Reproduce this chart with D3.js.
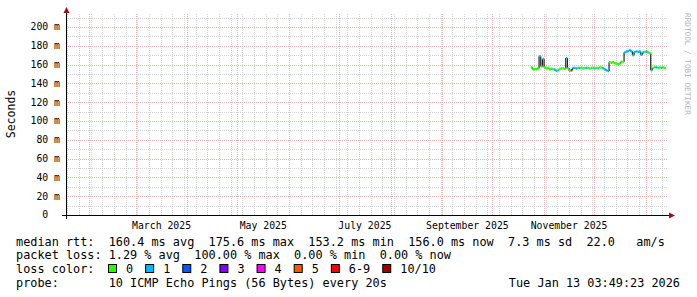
<!DOCTYPE html>
<html>
<head>
<meta charset="utf-8">
<script src="https://cdn.jsdelivr.net/npm/d3@7"></script>
<style>
  body { margin: 0; background: #fff; }
  text { font-family: "DejaVu Sans Mono", monospace; white-space: pre; }
</style>
</head>
<body>
<svg id="chart" width="697" height="297"></svg>
<script>
// graph covers the last 360 days up to the "now" stamp
var endTime = new Date(Date.UTC(2026, 0, 13, 3, 49, 23));
var rangeDays = 360;
var firstSample = new Date(Date.UTC(2025, 9, 24));

// median rtt in ms, one consolidated value per day from firstSample
var medianRtt = [
  157, 155, 155, 155, 156, 169, 158, 166, 157, 156,
  156.5, 155, 155.5, 155, 154.5, 153.5, 154, 155.5, 156, 156,
  155.5, 167, 156, 153.5, 154, 156.5, 156.5, 156, 156.5, 156.5,
  156.5, 156, 156.5, 156.5, 156.5, 156, 156.5, 156.5, 156, 156.5,
  156.5, 157, 157, 156, 155, 154, 153.2, 162.5, 162, 162.5,
  161.5, 161, 160.5, 161, 163, 163, 173, 174, 174.5, 175.6,
  174, 170, 173.5, 174, 173.5, 174, 170.5, 173, 173.5, 174,
  173, 172, 154, 156.5, 157.5, 157, 156.5, 157, 156.5, 157,
  156.5, 156
];
// lost pings per sample, index into lossColors
var lossLevel = [
  0, 0, 0, 0, 0, 1, 0, 1, 0, 0,
  0, 0, 0, 0, 1, 1, 0, 0, 0, 0,
  0, 1, 0, 0, 6, 1, 1, 1, 0, 1,
  0, 0, 0, 1, 0, 0, 0, 0, 1, 0,
  0, 0, 0, 1, 1, 1, 1, 0, 0, 0,
  0, 0, 0, 0, 0, 0, 1, 1, 1, 1,
  1, 1, 1, 1, 1, 1, 1, 1, 0, 1,
  0, 0, 1, 0, 0, 1, 0, 0, 1, 0,
  0, 0
];

var lossLabels = ['0', '1', '2', '3', '4', '5', '6-9', '10/10'];
var lossColors = ['#26ff00', '#00b8ff', '#0059ff', '#7e00ff', '#ff00ff', '#ff5500', '#ff0000', '#a10000'];

var yMajorTicks = [0, 20, 40, 60, 80, 100, 120, 140, 160, 180, 200];
var yMinorTicks = [10, 30, 50, 70, 90, 110, 130, 150, 170, 190, 210];

var legendRows = [
  'median rtt:  160.4 ms avg  175.6 ms max  153.2 ms min  156.0 ms now  7.3 ms sd  22.0   am/s',
  'packet loss: 1.29 % avg  100.00 % max  0.00 % min  0.00 % now',
  'loss color:',
  'probe:       10 ICMP Echo Pings (56 Bytes) every 20s'
];
var stampText = 'Tue Jan 13 03:49:23 2026';

var svg = d3.select('#chart');
var startTime = d3.utcDay.offset(endTime, -rangeDays);

var x = d3.scaleUtc().domain([startTime, endTime]).range([66, 666]);
var y = d3.scaleLinear().domain([0, 200 * 200 / 188]).range([215, 15]);

var px = function(v) { return Math.round(v) + 0.5; };

var drawGrid = function() {
  var g = svg.append('g').attr('class', 'grid');

  // weekly minor lines
  g.selectAll('line.wk')
    .data(d3.utcSunday.range(startTime, endTime))
    .enter().append('line')
    .attr('x1', function(d) { return px(x(d)); })
    .attr('x2', function(d) { return px(x(d)); })
    .attr('y1', 215).attr('y2', 14)
    .attr('stroke', '#d6d6d6').attr('stroke-dasharray', '1,1');

  g.selectAll('line.ymin')
    .data(yMinorTicks.filter(function(v) { return v < y.domain()[1]; }))
    .enter().append('line')
    .attr('x1', 66).attr('x2', 668)
    .attr('y1', function(v) { return px(y(v)); })
    .attr('y2', function(v) { return px(y(v)); })
    .attr('stroke', '#d6d6d6').attr('stroke-dasharray', '1,1');

  // monthly major lines
  g.selectAll('line.mon')
    .data(d3.utcMonth.range(startTime, endTime))
    .enter().append('line')
    .attr('x1', function(d) { return px(x(d)); })
    .attr('x2', function(d) { return px(x(d)); })
    .attr('y1', 215).attr('y2', 14)
    .attr('stroke', '#ebb4b4').attr('stroke-dasharray', '1,1');

  g.selectAll('line.ymaj')
    .data(yMajorTicks.slice(1))
    .enter().append('line')
    .attr('x1', 66).attr('x2', 668)
    .attr('y1', function(v) { return px(y(v)); })
    .attr('y2', function(v) { return px(y(v)); })
    .attr('stroke', '#ebb4b4').attr('stroke-dasharray', '1,1');
};

var drawAxes = function() {
  var g = svg.append('g').attr('class', 'axes');

  g.append('line').attr('x1', 62).attr('x2', 670).attr('y1', 215.5).attr('y2', 215.5)
    .attr('stroke', '#000');
  g.append('line').attr('x1', 66.5).attr('x2', 66.5).attr('y1', 219).attr('y2', 12)
    .attr('stroke', '#000');

  g.append('path').attr('d', 'M63.5,13 L69.5,13 L66.5,7 Z').attr('fill', '#a01010');
  g.append('path').attr('d', 'M669,212.5 L669,218.5 L675,215.5 Z').attr('fill', '#a01010');

  g.selectAll('text.ytick')
    .data(yMajorTicks)
    .enter().append('text')
    .attr('x', 60)
    .attr('y', function(v) { return y(v); })
    .attr('dy', '0.35em')
    .attr('text-anchor', 'end')
    .attr('font-size', '9.8px')
    .attr('fill', '#000')
    .attr('xml:space', 'preserve')
    .text(function(v) { return v === 0 ? '0  ' : v + ' m'; });

  var labelMonths = d3.utcMonth.every(2).range(d3.utcMonth.offset(startTime, -1), endTime)
    .filter(function(m) {
      var mid = new Date((+m + +d3.utcMonth.offset(m, 1)) / 2);
      return mid > startTime && mid < endTime;
    });

  g.selectAll('text.xtick')
    .data(labelMonths)
    .enter().append('text')
    .attr('x', function(m) { return (x(m) + x(d3.utcMonth.offset(m, 1))) / 2; })
    .attr('y', 228.5)
    .attr('text-anchor', 'middle')
    .attr('font-size', '9.8px')
    .attr('fill', '#000')
    .text(d3.utcFormat('%B %Y'));

  svg.append('text')
    .attr('transform', 'translate(15,114) rotate(-90)')
    .attr('text-anchor', 'middle')
    .attr('font-size', '11.5px')
    .attr('fill', '#000')
    .text('Seconds');

  svg.append('text')
    .attr('transform', 'translate(684.5,13) rotate(90)')
    .attr('font-size', '7.7px')
    .attr('fill', '#b4b4b4')
    .text('RRDTOOL / TOBI OETIKER');
};

var drawMedian = function() {
  var samples = medianRtt.map(function(v, i) {
    var t0 = d3.utcDay.offset(firstSample, i);
    var t1 = i === medianRtt.length - 1 ? endTime : d3.utcDay.offset(firstSample, i + 1);
    return { t0: t0, t1: t1, v: v, loss: lossLevel[i] };
  });

  var g = svg.append('g').attr('class', 'median');

  g.selectAll('line.step')
    .data(samples.slice(1))
    .enter().append('line')
    .attr('x1', function(d) { return x(d.t0); })
    .attr('x2', function(d) { return x(d.t0); })
    .attr('y1', function(d, i) { return y(samples[i].v); })
    .attr('y2', function(d) { return y(d.v); })
    .attr('stroke', '#222').attr('stroke-width', 1.2);

  g.selectAll('line.seg')
    .data(samples)
    .enter().append('line')
    .attr('x1', function(d) { return x(d.t0); })
    .attr('x2', function(d) { return x(d.t1); })
    .attr('y1', function(d) { return y(d.v); })
    .attr('y2', function(d) { return y(d.v); })
    .attr('stroke', function(d) { return lossColors[d.loss]; })
    .attr('stroke-width', 2.4);
};

var drawLegend = function() {
  var baselines = [245.5, 259.3, 273.3, 287.3];
  svg.selectAll('text.legend')
    .data(legendRows)
    .enter().append('text')
    .attr('x', 16)
    .attr('y', function(d, i) { return baselines[i]; })
    .attr('font-size', '11.85px')
    .attr('fill', '#000')
    .attr('xml:space', 'preserve')
    .text(function(d) { return d; });

  svg.append('text')
    .attr('x', 680).attr('y', baselines[3])
    .attr('text-anchor', 'end')
    .attr('font-size', '11.85px')
    .attr('fill', '#000')
    .text(stampText);

  var cx = 108.5;
  lossLabels.forEach(function(label, i) {
    svg.append('rect')
      .attr('x', cx).attr('y', 264.5).attr('width', 8).attr('height', 8)
      .attr('fill', lossColors[i]).attr('stroke', '#000');
    var t = svg.append('text')
      .attr('x', cx + 17.5).attr('y', baselines[2])
      .attr('font-size', '11.85px')
      .attr('fill', '#000')
      .text(label);
    cx = cx + 17.5 + t.node().getComputedTextLength() + 12.5;
  });
};

drawGrid();
drawAxes();
drawMedian();
drawLegend();
</script>
</body>
</html>
